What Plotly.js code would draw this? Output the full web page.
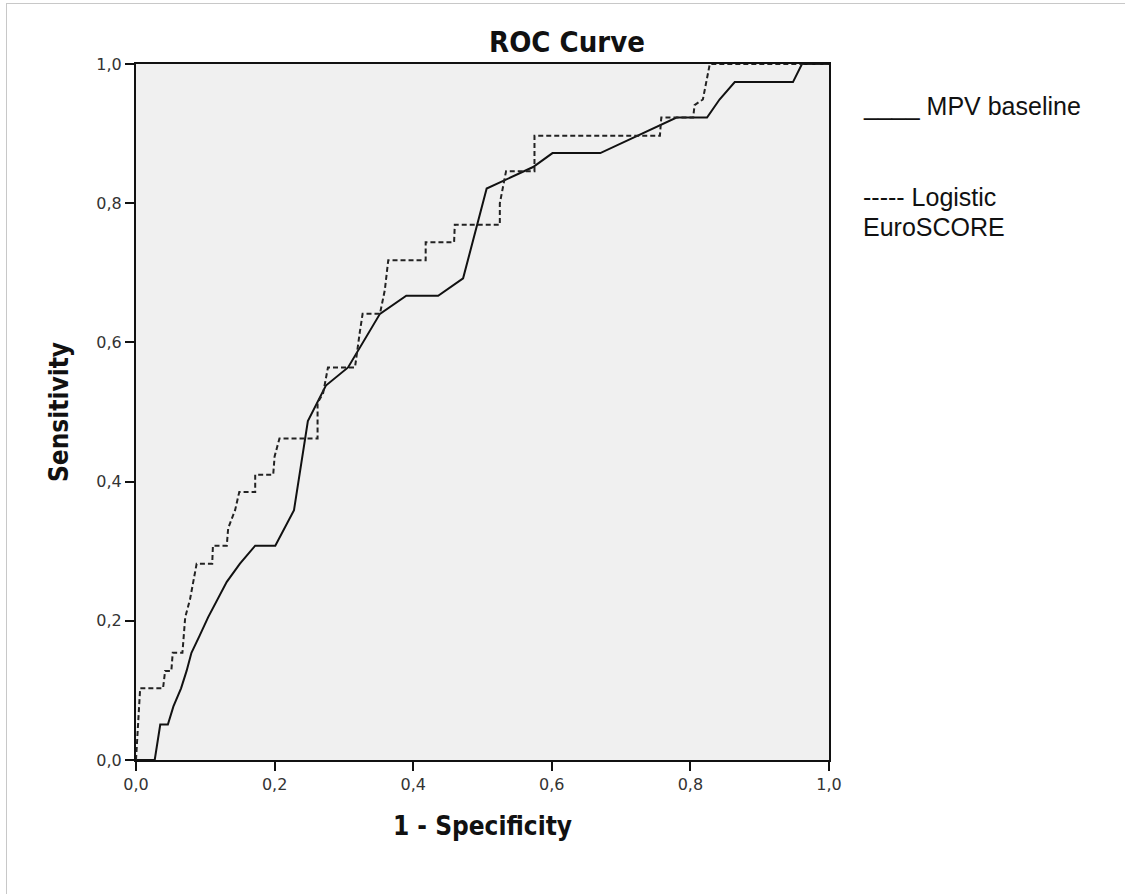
<!DOCTYPE html>
<html>
<head>
<meta charset="utf-8">
<script src="https://cdn.plot.ly/plotly-3.0.1.min.js"></script>
<style>
  html, body { margin: 0; padding: 0; background: #ffffff; }
  #wrap { position: relative; width: 1125px; height: 894px; }
  #frame { position: absolute; left: 6px; top: 3px; width: 1119px; height: 891px;
           border-left: 1px solid #c8c8c8; border-top: 1px solid #c8c8c8; box-sizing: border-box; pointer-events: none; z-index: 5; }
  #chart { position: absolute; left: 0; top: 0; width: 1125px; height: 894px; }
</style>
</head>
<body>
<div id="wrap">
  <div id="chart"></div>
  <div id="frame"></div>
</div>
<script>
// MPV baseline ROC curve (1 - specificity, sensitivity)
const mpvX = [0, 0.027, 0.035, 0.046, 0.054, 0.065, 0.073, 0.080, 0.092, 0.104, 0.131, 0.150, 0.172, 0.201, 0.228, 0.248, 0.274, 0.306, 0.352, 0.390, 0.436, 0.472, 0.506, 0.534, 0.573, 0.601, 0.670, 0.780, 0.824, 0.842, 0.864, 0.948, 0.961, 1.0];
const mpvY = [0, 0, 0.051, 0.051, 0.077, 0.103, 0.128, 0.154, 0.179, 0.205, 0.256, 0.282, 0.308, 0.308, 0.359, 0.487, 0.538, 0.564, 0.641, 0.667, 0.667, 0.692, 0.821, 0.834, 0.852, 0.872, 0.872, 0.923, 0.923, 0.949, 0.974, 0.974, 1.0, 1.0];

// Logistic EuroSCORE ROC curve
const euroX = [0, 0.006, 0.039, 0.042, 0.051, 0.053, 0.067, 0.071, 0.078, 0.0875, 0.110, 0.111, 0.131, 0.133, 0.143, 0.149, 0.172, 0.172, 0.198, 0.200, 0.207, 0.262, 0.262, 0.270, 0.277, 0.316, 0.323, 0.327, 0.352, 0.359, 0.364, 0.418, 0.418, 0.459, 0.460, 0.525, 0.525, 0.534, 0.575, 0.575, 0.756, 0.758, 0.804, 0.806, 0.818, 0.823, 0.828, 1.0];
const euroY = [0, 0.103, 0.103, 0.128, 0.128, 0.154, 0.154, 0.205, 0.231, 0.282, 0.282, 0.308, 0.308, 0.333, 0.359, 0.385, 0.385, 0.410, 0.410, 0.436, 0.462, 0.462, 0.513, 0.527, 0.564, 0.564, 0.615, 0.641, 0.641, 0.675, 0.718, 0.718, 0.744, 0.744, 0.769, 0.769, 0.800, 0.846, 0.846, 0.897, 0.897, 0.923, 0.923, 0.941, 0.949, 0.974, 1.0, 1.0];

const tickVals = [0, 0.2, 0.4, 0.6, 0.8, 1.0];
const tickText = ["0,0", "0,2", "0,4", "0,6", "0,8", "1,0"];

const titleText = "ROC Curve";
const xTitle = "1 - Specificity";
const yTitle = "Sensitivity";
const legendMPV = "____ MPV baseline";
const legendEuro1 = "----- Logistic";
const legendEuro2 = "EuroSCORE";

const condensed = "DejaVu Sans Condensed, Liberation Sans Narrow, Open Sans, sans-serif";
const tickFont = {family: "DejaVu Sans, sans-serif", size: 16, color: "#333333"};
const legendFont = {family: "Liberation Sans, Arial, sans-serif", size: 25, color: "#111111"};

const traces = [
  {x: mpvX, y: mpvY, type: "scatter", mode: "lines", name: "MPV baseline",
   line: {color: "#111111", width: 2}, hoverinfo: "x+y"},
  {x: euroX, y: euroY, type: "scatter", mode: "lines", name: "Logistic EuroSCORE",
   line: {color: "#222222", width: 2, dash: "5px,3px"}, hoverinfo: "x+y"}
];

const layout = {
  width: 1125, height: 894,
  margin: {l: 136, r: 296, t: 64, b: 134},
  paper_bgcolor: "rgba(0,0,0,0)",
  plot_bgcolor: "#f0f0f0",
  showlegend: false,
  title: {text: "<b>" + titleText + "</b>", font: {family: condensed, size: 29, color: "#111111"},
          xref: "container", x: 0.504, xanchor: "center", yref: "container", y: 0.953, yanchor: "middle"},
  xaxis: {
    range: [0, 1], tickvals: tickVals, ticktext: tickText,
    showgrid: false, zeroline: false,
    showline: true, linecolor: "#111111", linewidth: 2, mirror: true,
    ticks: "outside", ticklen: 9, tickwidth: 2, tickcolor: "#111111",
    tickfont: tickFont,
    title: {text: "<b>" + xTitle + "</b>", font: {family: condensed, size: 26, color: "#111111"}, standoff: 24}
  },
  yaxis: {
    range: [0, 1], tickvals: tickVals, ticktext: tickText,
    showgrid: false, zeroline: false,
    showline: true, linecolor: "#111111", linewidth: 2, mirror: true,
    ticks: "outside", ticklen: 9, tickwidth: 2, tickcolor: "#111111",
    tickfont: tickFont,
    title: {text: "<b>" + yTitle + "</b>", font: {family: condensed, size: 26, color: "#111111"}, standoff: 20}
  },
  annotations: [
    {xref: "paper", yref: "paper", x: 1.046, y: 0.940, xanchor: "left", yanchor: "middle",
     text: legendMPV, showarrow: false, font: legendFont},
    {xref: "paper", yref: "paper", x: 1.046, y: 0.809, xanchor: "left", yanchor: "middle",
     text: legendEuro1, showarrow: false, font: legendFont},
    {xref: "paper", yref: "paper", x: 1.046, y: 0.766, xanchor: "left", yanchor: "middle",
     text: legendEuro2, showarrow: false, font: legendFont}
  ]
};

Plotly.newPlot("chart", traces, layout, {displayModeBar: false, staticPlot: true});
</script>
</body>
</html>
